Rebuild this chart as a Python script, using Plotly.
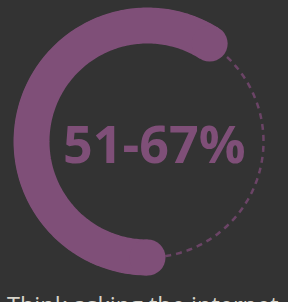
import numpy as np
import plotly.graph_objects as go

# Data
range_low = 51
range_high = 67
filled_pct = (range_low + range_high) / 2  # arc drawn at midpoint of range
label_text = f"{range_low}-{range_high}%"
caption = "Think asking the internet"

BG = "#333333"
PURPLE = "#7f4f78"
DASH = "#6b4466"
CAPTION = "#d8d5cb"

start_deg = 180.0
end_deg = start_deg + filled_pct / 100 * 360
theta_fill = np.linspace(start_deg, end_deg, 200)
theta_rest = np.linspace(end_deg, start_deg + 360, 120)

fig = go.Figure()
fig.add_trace(go.Scatterpolar(
    r=np.ones_like(theta_rest), theta=theta_rest, mode="lines",
    line=dict(color=DASH, width=2.5, dash="6px,5px"),
    hoverinfo="skip", cliponaxis=False))
fig.add_trace(go.Scatterpolar(
    r=np.ones_like(theta_fill), theta=theta_fill, mode="lines",
    line=dict(color=PURPLE, width=36),
    hoverinfo="skip", cliponaxis=False))
fig.add_trace(go.Scatterpolar(
    r=[1, 1], theta=[start_deg, end_deg], mode="markers",
    marker=dict(color=PURPLE, size=36, line=dict(width=0)),
    hoverinfo="skip", cliponaxis=False))

W, H = 288, 302
cx, cy, rc = 147.5, 141.5, 116.0
rmax = 1.16
R = rc * rmax
fig.update_layout(
    width=W, height=H,
    margin=dict(l=0, r=0, t=0, b=0),
    paper_bgcolor=BG, plot_bgcolor=BG,
    showlegend=False,
    polar=dict(
        domain=dict(x=[(cx - R) / W, (cx + R) / W],
                    y=[1 - (cy + R) / H, 1 - (cy - R) / H]),
        bgcolor="rgba(0,0,0,0)",
        radialaxis=dict(range=[0, rmax], visible=False, showgrid=False),
        angularaxis=dict(direction="clockwise", rotation=90, visible=False,
                         showgrid=False, showline=False, showticklabels=False),
    ),
    annotations=[
        dict(text=f"<b>{label_text}</b>", x=154 / W, y=1 - 142 / H,
             xref="paper", yref="paper", showarrow=False,
             xanchor="center", yanchor="middle",
             font=dict(family="Open Sans", size=52, color=PURPLE)),
        dict(text=caption, x=143 / W, y=1 - 287 / H,
             xref="paper", yref="paper", showarrow=False,
             xanchor="center", yanchor="top",
             font=dict(family="Open Sans", size=23.5, color=CAPTION)),
    ],
)
fig.write_html("out.html",
               config={"displayModeBar": False},
               post_script="document.body.style.margin='0';"
                           "document.body.style.background='#333333';")
